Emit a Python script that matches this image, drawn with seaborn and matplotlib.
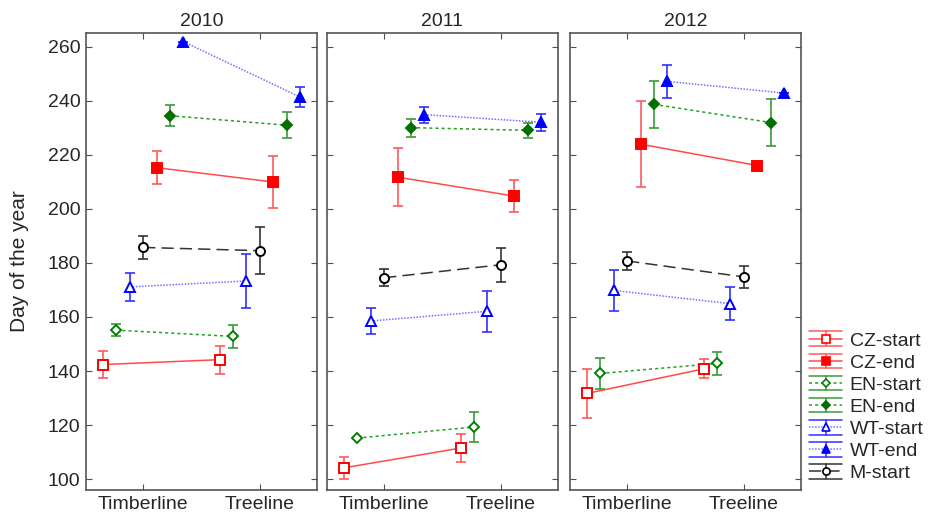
import numpy as np
import pandas as pd
import seaborn as sns
import matplotlib.pyplot as plt
from matplotlib.lines import Line2D
from matplotlib.legend_handler import HandlerBase

years = ['2010', '2011', '2012']
sites = ['Timberline', 'Treeline']
series = ['CZ-start', 'CZ-end', 'EN-start', 'EN-end', 'WT-start', 'WT-end', 'M-start']

# mean day of year, per year -> series -> [Timberline, Treeline]
means = {
    '2010': {'CZ-start': [142.4, 144.2], 'CZ-end': [215.2, 209.9],
             'EN-start': [155.1, 152.8], 'EN-end': [234.4, 230.9],
             'WT-start': [171.1, 173.3], 'WT-end': [261.8, 241.3],
             'M-start': [185.7, 184.5]},
    '2011': {'CZ-start': [104.2, 111.5], 'CZ-end': [211.7, 204.7],
             'EN-start': [115.2, 119.3], 'EN-end': [230.0, 229.0],
             'WT-start': [158.5, 162.1], 'WT-end': [234.8, 232.0],
             'M-start': [174.5, 179.3]},
    '2012': {'CZ-start': [131.7, 140.8], 'CZ-end': [223.9, 216.0],
             'EN-start': [139.1, 142.8], 'EN-end': [238.6, 231.9],
             'WT-start': [169.8, 164.9], 'WT-end': [247.1, 242.8],
             'M-start': [180.7, 174.8]},
}
errs = {
    '2010': {'CZ-start': [5.1, 5.2], 'CZ-end': [6.0, 9.6],
             'EN-start': [2.3, 4.4], 'EN-end': [3.9, 4.9],
             'WT-start': [5.2, 10.1], 'WT-end': [0.0, 3.7],
             'M-start': [4.1, 8.7]},
    '2011': {'CZ-start': [4.0, 5.2], 'CZ-end': [10.6, 5.8],
             'EN-start': [0.0, 5.5], 'EN-end': [3.3, 2.9],
             'WT-start': [4.8, 7.6], 'WT-end': [3.0, 3.2],
             'M-start': [3.2, 6.2]},
    '2012': {'CZ-start': [9.0, 3.5], 'CZ-end': [15.9, 0.0],
             'EN-start': [5.6, 4.4], 'EN-end': [8.7, 8.7],
             'WT-start': [7.6, 6.1], 'WT-end': [6.2, 0.0],
             'M-start': [3.3, 4.1]},
}

# order of horizontal dodge within each site
dodge_order = ['CZ-start', 'EN-start', 'WT-start', 'M-start', 'CZ-end', 'EN-end', 'WT-end']

styles = {
    'CZ-start': dict(line='#ff4a4a', ls='-', err='#ff5a5a', mk='s', mc='#ff0000', fill='white', ms=7.5),
    'CZ-end': dict(line='#ff4a4a', ls='-', err='#ff5a5a', mk='s', mc='#ff0000', fill='#ff0000', ms=7.5),
    'EN-start': dict(line='#22a022', ls=(0, (2, 2)), err='#3a9a3a', mk='D', mc='#008000', fill='white', ms=5.5),
    'EN-end': dict(line='#22a022', ls=(0, (2, 2)), err='#3a9a3a', mk='D', mc='#007000', fill='#007000', ms=5.5),
    'WT-start': dict(line='#7070ff', ls=(0, (1, 1)), err='#3030ff', mk='^', mc='#0000ff', fill='white', ms=7.5),
    'WT-end': dict(line='#7070ff', ls=(0, (1, 1)), err='#3030ff', mk='^', mc='#0000ff', fill='#0000ff', ms=7.5),
    'M-start': dict(line='#333333', ls=(0, (8, 4)), err='#333333', mk='o', mc='#000000', fill='white', ms=6.5),
}

rows = []
for yr in years:
    for s in series:
        for i, site in enumerate(sites):
            rows.append(dict(year=yr, series=s, site=site, day=means[yr][s][i], err=errs[yr][s][i],
                             xpos=i + (dodge_order.index(s) - 3) * 0.115))
df = pd.DataFrame(rows)


class ErrHandle(HandlerBase):
    # legend key like the original: cap lines above/below, the series line and marker
    def create_artists(self, legend, orig, xd, yd, width, height, fontsize, trans):
        st = orig.st
        cy = height / 2 - yd
        x0, x1 = -xd, width - xd
        xm = (x0 + x1) / 2
        h = 5.3
        arts = [
            Line2D([x0, x1], [cy + h, cy + h], color=st['err'], lw=1.1),
            Line2D([x0, x1], [cy - h, cy - h], color=st['err'], lw=1.1),
            Line2D([xm, xm], [cy - h, cy + h], color=st['err'], lw=1.1),
            Line2D([x0, x1], [cy, cy], color=st['line'], lw=1.1, linestyle=st['ls']),
            Line2D([xm], [cy], marker=st['mk'], markersize=st['ms'] * 0.8, markerfacecolor=st['fill'],
                   markeredgecolor=st['mc'], markeredgewidth=1.2, linestyle='none'),
        ]
        for a in arts:
            a.set_transform(trans)
        return arts


sns.set_style('white')
plt.rcParams['font.family'] = ['Liberation Sans', 'DejaVu Sans']

fig = plt.figure(figsize=(9.39, 5.19), dpi=100)
W, H = 939, 519
lefts = [86, 327, 570]
axes = []
for k, yr in enumerate(years):
    ax = fig.add_axes([lefts[k] / W, 29 / H, 231 / W, 457 / H])
    axes.append(ax)
    sub = df[df.year == yr]
    for s in series:
        st = styles[s]
        d = sub[sub.series == s]
        sns.lineplot(data=d, x='xpos', y='day', ax=ax, color=st['line'], linewidth=1.1,
                     linestyle=st['ls'], legend=False, zorder=2)
        ax.errorbar(d.xpos, d.day, yerr=d.err, fmt='none', ecolor=st['err'], elinewidth=1.2,
                    capsize=3.5, capthick=1.2, zorder=3)
        ax.plot(d.xpos, d.day, linestyle='none', marker=st['mk'], markersize=st['ms'],
                markerfacecolor=st['fill'], markeredgecolor=st['mc'], markeredgewidth=1.4, zorder=4)
    ax.set_xlim(-0.49, 1.49)
    ax.set_ylim(96, 265)
    ax.set_xticks([0, 1])
    ax.set_xticklabels(sites)
    ax.set_yticks(np.arange(100, 261, 20))
    ax.set_xlabel('')
    ax.set_ylabel('')
    ax.set_title(yr, fontsize=14, pad=5)
    ax.tick_params(direction='in', length=4, top=True, right=True, bottom=True, left=True,
                   color='#505050', labelsize=14, pad=4)
    for sp in ax.spines.values():
        sp.set_color('#555555')
        sp.set_linewidth(1.2)
    if k > 0:
        ax.set_yticklabels([])

axes[0].set_ylabel('Day of the year', fontsize=15)
axes[0].yaxis.set_label_coords(-0.245, 0.5)

handles = []
for s in series:
    hd = Line2D([0], [0])
    hd.st = styles[s]
    handles.append(hd)
fig.legend(handles, series, loc='upper left', bbox_to_anchor=(809 / W, 1 - 332 / H),
           frameon=False, fontsize=14, handlelength=1.7, handletextpad=0.4,
           labelspacing=0.23, borderaxespad=0, borderpad=0,
           handler_map={Line2D: ErrHandle()})

fig.savefig('out.png', dpi=100)
